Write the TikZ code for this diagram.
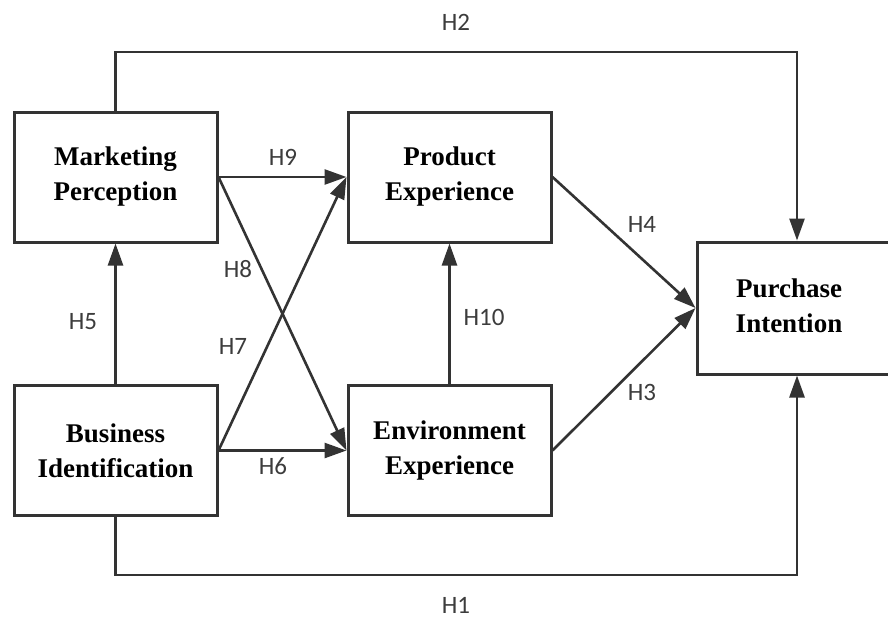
\documentclass[tikz,border=0pt]{standalone}
\usepackage{fontspec}
\setmainfont{Liberation Serif}
\newfontfamily\hypfont{Carlito}
\usetikzlibrary{arrows.meta}
\definecolor{linegray}{HTML}{333333}
\definecolor{hypgray}{HTML}{3C3C3C}

\begin{document}
\begin{tikzpicture}[x=1pt,y=-1pt,
  box/.style={draw=linegray,line width=3pt,fill=white,minimum width=203pt,minimum height=130pt,
    inner sep=0pt,align=center,font=\fontsize{27}{35}\selectfont\bfseries},
  link/.style={draw=linegray,line width=2.6pt,-{Triangle[length=22pt,width=15pt]}},
  hyp/.style={text=hypgray,inner sep=0pt,font=\hypfont\fontsize{25}{30}\selectfont}]
\useasboundingbox (0,0) rectangle (888,618);
% constructs
\node[box] (mp) at (115.5,177) {Marketing\\Perception};
\node[box] (pe) at (449.5,177) {Product\\Experience};
\node[box] (bi) at (115.5,450.5) {Business\\Identification};
\node[box] (ee) at (449.5,450.5) {Environment\\Experience};
\node[box,minimum width=200pt,minimum height=132pt] (pi) at (797,308) {};
\node[align=center,inner sep=0pt,font=\fontsize{27}{35}\selectfont\bfseries] (pitxt) at (789,306) {Purchase\\Intention};
% rails for H1 and H2
\coordinate (toprail) at (0,52);
\coordinate (botrail) at (0,575);
% paths
\draw[link] (bi.north) -- (mp.south);
\draw[link] (mp.east) -- (pe.west);
\draw[link] (mp.east) -- (ee.west);
\draw[link] (bi.east) -- (pe.west);
\draw[link] (bi.east) -- (ee.west);
\draw[link] (ee.north) -- (pe.south);
\draw[link] (pe.east) -- (pi.west);
\draw[link] (ee.east) -- (pi.west);
\draw[link] (mp.north) |- (pi.north |- toprail) -- (pi.north);
\draw[link] (bi.south) |- (pi.south |- botrail) -- (pi.south);
% hypotheses
\node[hyp] (h1) at (456,605) {H1};
\node[hyp] (h2) at (456,22) {H2};
\node[hyp] (h3) at (642,392) {H3};
\node[hyp] (h4) at (642,224) {H4};
\node[hyp] (h5) at (83,322) {H5};
\node[hyp] (h6) at (273,466) {H6};
\node[hyp] (h7) at (233,346) {H7};
\node[hyp] (h8) at (238,269) {H8};
\node[hyp] (h9) at (283,157) {H9};
\node[hyp] (h10) at (484,317) {H10};
\end{tikzpicture}
\end{document}
